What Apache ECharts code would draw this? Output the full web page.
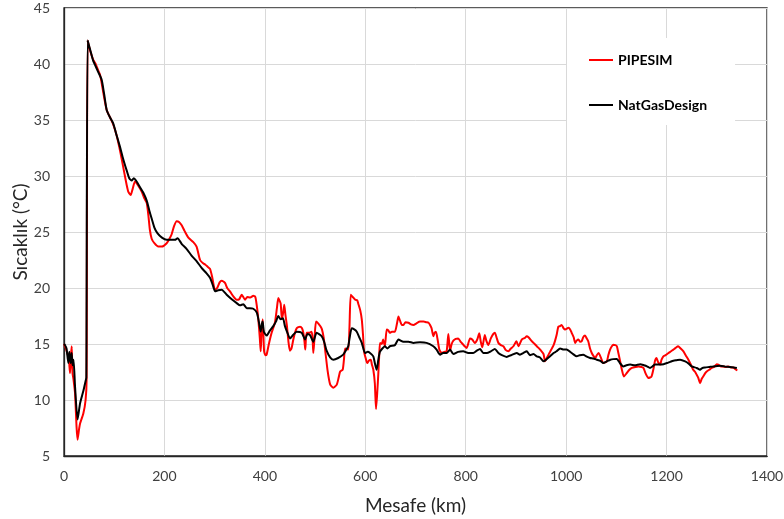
<!DOCTYPE html>
<html>
<head>
<meta charset="utf-8">
<script src="https://cdn.jsdelivr.net/npm/echarts@6/dist/echarts.min.js"></script>
<style>html,body{margin:0;padding:0;background:#fff;}#chart{width:784px;height:519px;}</style>
</head>
<body>
<div id="chart"></div>
<script>
// PIPESIM (red)
var pipesimKm = [0,3,5,8.6,10,12,13.5,15.3,17,19,22,25,27,30,32,38.5,43,45,47,52,58,63,68.3,72,75,80,85,92,98,105,110,115,120,124.8,128,132.8,137,141.4,147,154.7,160,164.7,168,171,174.6,180,187.8,195,204.5,210,214.4,219,224.4,229,234.4,240,247.6,257.5,264,271,277,281,286,290.8,295,300.7,305,310,314,320.6,325,330.5,338,343.8,349,353.8,357,360.5,365,371,377,381,384,387,390,391.7,393.5,395.6,397,398.5,401,403.5,408,413.5,420,424,426.8,429,431.5,434,436.5,438.6,441,444,447,450,453,456.7,460,463.4,466.6,470,474,476.6,479,480.5,483,488,493,495,496.5,499,502,507,513,517,520,525,530,536.3,543,547,550,555,557.5,560,566,568.5,571,575,580,584,586,590,593,595.5,597.5,601,604,607,611,613,616,619,621.4,624,626,628,629.5,633,635.5,639,642.7,646,649,653,659,663,666,669,673,676,680,686,691,696,702,709,716,721,726,729,732,735.5,738,740.7,744,747.5,752,757,762,765.4,768.8,772,775.4,780,785,790,794,798,802,808.6,813,818,823,827,830,833,838,841,845,850,855,858,862,865,870,875,880,885,890,895,901,905,911.6,918,921.5,925,931.5,935,941.5,945,950,955,958,962,968,975,978,981,984.5,988,991,995,998,1004.6,1008,1011,1015,1018,1021,1024.6,1028,1031,1034,1037.6,1041,1044,1047.6,1051,1055,1058,1061,1064.6,1069,1074,1081,1084,1087.5,1091,1094,1098,1101,1104,1107.6,1111,1115,1120.6,1126,1131,1138,1144,1150,1154,1158,1163.8,1170,1174,1177,1180,1183,1187,1190,1193.6,1198,1204,1209,1213.5,1218,1223,1228,1233.6,1238,1243.5,1248,1253,1257,1260,1263,1266.7,1270,1273,1277,1280,1285,1290,1296,1300,1303,1308,1313,1318,1323,1328,1333,1337,1341];
var pipesimTemp = [15.0,14.7,14.4,13.9,13.5,12.4,13.8,14.8,12.4,11.8,10.6,7.6,6.45,7.4,7.9,8.8,10.0,11.8,42.1,41.2,40.4,40.0,39.4,39.0,38.3,37.0,35.9,35.2,34.6,33.6,32.6,31.5,30.3,29.2,28.6,28.3,28.9,29.5,29.2,28.6,28.0,27.6,26.5,25.2,24.4,24.0,23.7,23.7,24.0,24.4,24.8,25.5,25.95,25.9,25.6,25.1,24.5,24.1,23.7,22.5,22.2,22.1,21.9,21.7,21.0,19.85,20.0,20.5,20.65,20.45,20.0,19.7,19.2,18.95,19.0,19.4,19.2,18.95,19.2,19.15,19.3,19.2,18.4,17.2,15.5,14.35,16.0,17.2,16.0,14.35,14.0,14.05,15.0,16.0,16.9,18.2,19.1,18.9,18.6,17.2,17.8,18.5,17.6,16.6,15.2,14.4,14.6,15.4,16.0,16.4,16.5,16.55,16.4,16.0,15.2,14.5,16.0,16.0,16.1,15.5,14.2,15.6,17.0,16.8,16.4,15.6,14.5,12.6,11.4,11.1,11.35,12.0,12.55,12.7,13.6,14.6,14.5,16.5,19.4,19.2,18.95,18.9,18.6,18.0,17.2,15.8,14.35,13.7,13.3,13.5,13.6,13.2,12.7,11.5,9.2,10.8,12.4,14.2,15.1,15.0,15.4,14.8,16.3,16.2,16.0,16.1,16.1,16.8,17.45,17.1,16.7,16.7,16.95,16.9,16.75,16.7,16.85,17.0,17.0,16.95,16.9,16.7,16.4,15.7,16.0,16.1,15.4,14.5,14.2,14.3,14.35,15.9,14.4,15.0,15.3,15.45,15.5,15.2,15.0,14.8,14.65,15.5,15.4,15.1,15.4,15.95,15.2,14.7,15.8,15.3,14.9,15.5,15.9,16.0,15.5,15.1,14.9,14.8,14.45,14.35,14.6,14.8,15.25,14.8,15.4,15.55,15.7,15.6,15.25,15.1,14.8,14.65,14.4,14.1,13.45,13.8,14.3,14.9,15.3,15.8,16.55,16.6,16.7,16.4,16.3,16.45,16.3,16.0,15.6,15.1,15.3,15.4,15.2,15.25,15.6,15.75,15.5,15.25,14.6,14.2,13.9,13.75,14.0,14.2,13.8,13.3,13.45,14.0,14.5,14.8,14.93,14.9,14.8,14.2,13.45,12.7,12.1,12.4,12.7,12.86,12.95,13.0,12.95,12.86,12.4,11.96,12.1,12.8,13.5,13.75,13.4,13.16,13.6,13.9,14.0,14.2,14.35,14.5,14.65,14.8,14.6,14.35,14.0,13.6,13.2,12.7,12.5,12.25,12.0,11.5,11.9,12.1,12.4,12.55,12.7,12.86,13.0,13.2,13.16,13.0,13.0,12.95,13.0,12.9,12.9,12.75,12.65];

// NatGasDesign (black)
var natgasKm = [0,2,5,8.6,10.6,13.3,15.3,17,19,22,27,32,38.5,43,44.5,47,52,58,62,68,75,80,85,92,98,105,111.5,118,124.8,130,134.8,139,143.4,151.4,158,164.7,170,174.6,180,186,195,204.5,215,221,226,235,244,254,264,274,284,291,296,301,307,314,324,334,344,350.5,357,364,370,377,384,388,391.7,394,395.6,398,403.5,410,416.8,422,426.8,431.5,436,440,445,450,456,463.4,473.4,480,485,490,496.5,503,513,518,523,530,536.3,546,556,561,566,569,573,578,583,588,593,599.5,605,609.4,616,619,622.6,626,629,634,639,644,649,659,666,676,686,696,709,722,735.5,742,749,755,762,768.8,775.4,785,795,805,815,822,828.5,835,842,850,858,865,872,881.6,890,901.6,908,915,921.5,928,935,941.5,948,955,960,968,975,981,988,995,1001,1008,1014,1021,1027,1034,1040,1047.6,1054,1061,1068,1074,1081,1088,1094,1101,1107,1114,1120,1127.5,1137,1147.5,1155,1161,1167,1172,1177,1187,1194,1201,1207,1213.5,1220,1227,1237,1244,1250,1260,1266.7,1271,1276.6,1285,1293,1306.5,1316,1326,1334,1340];
var natgasTemp = [15.0,14.9,14.6,13.3,14.3,13.3,14.2,13.1,13.6,11.2,8.25,9.7,10.8,11.7,12.0,42.1,41.3,40.3,39.9,39.3,38.6,37.3,35.9,35.2,34.7,33.6,32.6,31.5,30.5,29.8,29.6,29.8,29.6,29.0,28.5,27.8,26.9,26.2,25.4,24.9,24.5,24.3,24.3,24.3,24.45,23.9,23.5,22.9,22.4,21.8,21.3,20.9,20.3,19.7,19.8,19.85,19.4,19.0,18.65,18.45,18.55,18.2,18.2,18.15,17.8,17.0,16.1,16.8,17.0,16.1,15.75,16.2,16.6,17.0,17.5,17.2,17.3,16.6,16.0,15.5,15.8,16.1,16.0,15.4,15.9,15.8,15.2,16.0,15.7,15.2,14.4,13.8,13.6,13.75,14.05,14.4,14.8,15.6,16.4,16.3,16.1,15.6,15.1,14.2,14.3,14.2,13.9,13.3,12.7,13.6,14.3,14.6,14.8,14.6,14.8,14.9,15.4,15.2,15.2,15.1,15.15,15.1,14.8,14.5,14.05,14.2,14.2,14.5,14.1,14.3,14.35,14.2,14.2,14.4,14.55,14.2,14.2,14.35,14.55,14.2,14.0,13.85,14.0,14.2,14.05,14.2,14.35,14.0,14.1,13.9,13.8,13.45,13.6,13.9,14.2,14.35,14.6,14.5,14.5,14.3,14.1,13.9,14.0,14.05,13.9,13.75,13.7,13.6,13.5,13.3,13.45,13.6,13.65,13.66,13.3,13.0,13.1,13.16,13.1,13.2,13.1,13.0,12.86,13.0,13.16,13.16,13.2,13.3,13.4,13.5,13.55,13.6,13.45,13.25,13.0,12.86,12.7,12.85,12.9,12.95,13.0,13.05,13.0,12.95,12.9,12.85];

var xTicks = [0,200,400,600,800,1000,1200,1400];
var yTicks = [5,10,15,20,25,30,35,40,45];

function pairs(xs, ys){ return xs.map(function(x,i){ return [x, ys[i]]; }); }

var FONT = 'Lato, "Open Sans", sans-serif';
var chart = echarts.init(document.getElementById('chart'), null, {renderer:'canvas'});
chart.setOption({
  animation: false,
  backgroundColor: '#fff',
  grid: { left: 64, right: 17, top: 8, bottom: 63, show: true, borderColor: '#262626', borderWidth: 1.3,
          containLabel: false, outerBoundsMode: 'none' },
  legend: {
    orient: 'vertical', left: 567, top: 38,
    backgroundColor: '#fff', padding: [15, 28, 13, 22],
    itemGap: 31, itemWidth: 24, itemHeight: 2, icon: 'rect',
    textStyle: { fontFamily: FONT, fontWeight: 'bold', fontSize: 14, color: '#000', lineHeight: 14 },
    data: ['PIPESIM', 'NatGasDesign']
  },
  xAxis: {
    type: 'value', min: xTicks[0], max: xTicks[xTicks.length-1], interval: 200,
    name: 'Mesafe (km)', nameLocation: 'middle', nameGap: 40, nameMoveOverlap: false,
    nameTextStyle: { fontFamily: FONT, fontSize: 19, color: '#262626' },
    axisLine: { show: true, lineStyle: { color: '#262626', width: 1.3 } },
    axisTick: { show: false },
    axisLabel: { fontFamily: FONT, fontSize: 14, color: '#404040', margin: 13,
                 formatter: function(v){ return String(v); } },
    splitLine: { show: true, lineStyle: { color: '#d9d9d9', width: 1 } }
  },
  yAxis: {
    type: 'value', min: yTicks[0], max: yTicks[yTicks.length-1], interval: 5,
    name: 'Sıcaklık (°C)', nameLocation: 'middle', nameGap: 34, nameRotate: 90, nameMoveOverlap: false,
    nameTextStyle: { fontFamily: FONT, fontSize: 19, color: '#262626' },
    axisLine: { show: true, lineStyle: { color: '#262626', width: 1.3 } },
    axisTick: { show: false },
    axisLabel: { fontFamily: FONT, fontSize: 14, color: '#404040', margin: 14,
                 formatter: function(v){ return String(v); } },
    splitLine: { show: true, lineStyle: { color: '#d9d9d9', width: 1 } }
  },
  series: [
    { name: 'PIPESIM', type: 'line', data: pairs(pipesimKm, pipesimTemp), showSymbol: false, symbol: 'none',
      smooth: 0.2, lineStyle: { color: '#ff0000', width: 2 }, itemStyle: { color: '#ff0000' }, z: 2 },
    { name: 'NatGasDesign', type: 'line', data: pairs(natgasKm, natgasTemp), showSymbol: false, symbol: 'none',
      smooth: 0.2, lineStyle: { color: '#000000', width: 2 }, itemStyle: { color: '#000000' }, z: 3 }
  ]
});
</script>
</body>
</html>
